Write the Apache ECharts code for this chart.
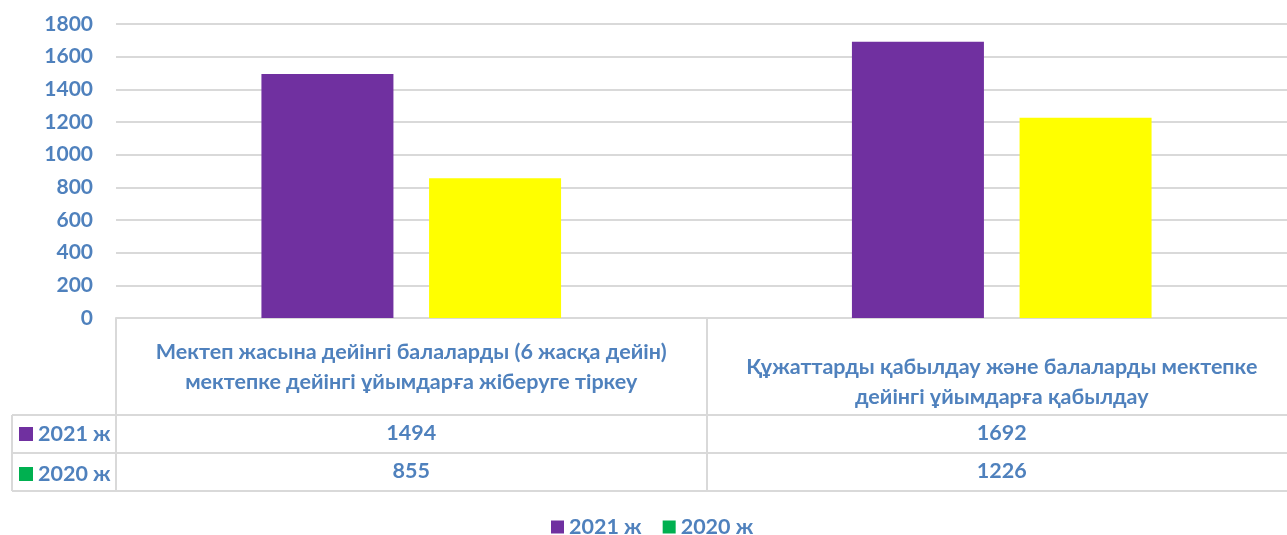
<!DOCTYPE html>
<html lang="kk">
<head>
    <meta charset="UTF-8">
    <title>Chart</title>
    <script src="https://cdn.jsdelivr.net/npm/echarts@6/dist/echarts.min.js"></script>
    <style>
        html, body { margin: 0; padding: 0; background: #fff; overflow: hidden; }
        #main { width: 1297px; height: 535px; }
    </style>
</head>
<body>
<div id="main"></div>
<script>
    // data
    let categories = [
        'Мектеп жасына дейінгі балаларды (6 жасқа дейін)\nмектепке дейінгі ұйымдарға жіберуге тіркеу',
        'Құжаттарды қабылдау және балаларды мектепке\nдейінгі ұйымдарға қабылдау'
    ];
    let seriesNames = ['2021 ж', '2020 ж'];
    let values2021 = [1494, 1692];
    let values2020 = [855, 1226];
    let yMin = 0, yMax = 1800, yStep = 200;

    // styles
    let blue = '#4f81bd';
    let border = '#d9d9d9';
    let font = 'Lato, "Noto Sans", sans-serif';
    let barColors = ['#7030a0', '#ffff00'];
    let keyColors = ['#7030a0', '#00b050'];
    // table row lines (px)
    let tableLeft = 12, tableRight = 1297, rowTops = [415, 453, 491];

    let myChart = echarts.init(document.getElementById('main'));

    let option = {
        animation: false,
        grid: { left: 116, right: 0, top: 24, bottom: 217, containLabel: false },
        xAxis: {
            type: 'category',
            data: categories,
            axisLine: { lineStyle: { color: border, width: 2 } },
            axisTick: { show: true, interval: 0, length: 173, lineStyle: { color: border, width: 2 } },
            axisLabel: {
                interval: 0,
                margin: 19,
                fontFamily: font,
                formatter: function (value, index) {
                    let head = value.split('\n').map(function (s) { return '{h|' + s + '}'; }).join('\n');
                    let vals = '{v|' + values2021[index] + '}\n{v|' + values2020[index] + '}';
                    if (index === 0) {
                        return head + '\n{g17| }\n' + vals;
                    }
                    return '{g15| }\n' + head + '\n{g2| }\n' + vals;
                },
                rich: {
                    h: { color: blue, fontFamily: font, fontWeight: 'bold', fontSize: 21.5, lineHeight: 30 },
                    v: { color: blue, fontFamily: font, fontWeight: 'bold', fontSize: 21.5, lineHeight: 38 },
                    g17: { fontSize: 1, lineHeight: 17 },
                    g15: { fontSize: 1, lineHeight: 15 },
                    g2: { fontSize: 1, lineHeight: 2 }
                }
            }
        },
        yAxis: {
            type: 'value',
            min: yMin,
            max: yMax,
            interval: yStep,
            axisLine: { show: false },
            axisTick: { show: false },
            axisLabel: {
                margin: 23, color: blue, fontFamily: font, fontWeight: 'bold', fontSize: 21,
                formatter: function (v) { return String(v); }
            },
            splitLine: { lineStyle: { color: border, width: 2 } }
        },
        legend: [
            {
                orient: 'vertical',
                left: 19,
                top: 423,
                padding: 0,
                itemWidth: 14,
                itemHeight: 14,
                itemGap: 18,
                selectedMode: false,
                textStyle: { color: blue, fontFamily: font, fontWeight: 'bold', fontSize: 21.5, lineHeight: 20 },
                data: seriesNames.map(function (n, i) {
                    return { name: n, icon: 'rect', itemStyle: { color: keyColors[i] } };
                })
            },
            {
                orient: 'horizontal',
                left: 551,
                top: 516,
                padding: 0,
                itemWidth: 13,
                itemHeight: 13,
                itemGap: 21,
                selectedMode: false,
                textStyle: { color: blue, fontFamily: font, fontWeight: 'bold', fontSize: 21.5, lineHeight: 20 },
                data: seriesNames.map(function (n, i) {
                    return { name: n, icon: 'rect', itemStyle: { color: keyColors[i] } };
                })
            }
        ],
        series: [
            {
                name: seriesNames[0],
                type: 'bar',
                barWidth: 132,
                barGap: '27%',
                itemStyle: { color: barColors[0] },
                data: values2021
            },
            {
                name: seriesNames[1],
                type: 'bar',
                barWidth: 132,
                barGap: '27%',
                itemStyle: { color: barColors[1] },
                data: values2020
            }
        ],
        graphic: rowTops.map(function (y) {
            return {
                type: 'line',
                silent: true,
                shape: { x1: tableLeft, y1: y, x2: tableRight, y2: y },
                style: { stroke: border, lineWidth: 2 }
            };
        }).concat([{
            type: 'line',
            silent: true,
            shape: { x1: tableLeft, y1: rowTops[0], x2: tableLeft, y2: rowTops[2] },
            style: { stroke: border, lineWidth: 2 }
        }])
    };
    myChart.setOption(option);
</script>
</body>
</html>
